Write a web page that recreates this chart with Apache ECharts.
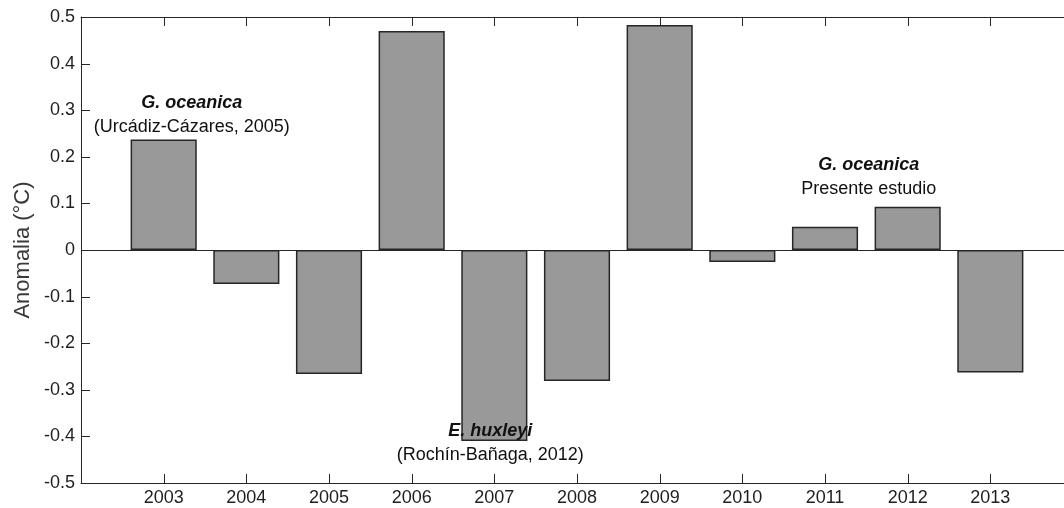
<!DOCTYPE html>
<html>
<head>
<meta charset="utf-8">
<script src="https://cdn.jsdelivr.net/npm/echarts@6/dist/echarts.min.js"></script>
<style>
  html, body { margin: 0; padding: 0; background: #fff; }
  #chart { width: 1064px; height: 508px; }
</style>
</head>
<body>
<div id="chart"></div>
<script>
// Annual temperature anomaly (°C), 2003–2013
const years = [2003, 2004, 2005, 2006, 2007, 2008, 2009, 2010, 2011, 2012, 2013];
const anomalies = [0.237, -0.073, -0.266, 0.470, -0.410, -0.281, 0.483, -0.026, 0.050, 0.093, -0.263];

// Inner tick marks on the box frame
const yTicks = [-0.4, -0.3, -0.2, -0.1, 0, 0.1, 0.2, 0.3, 0.4];

// Study notes placed in data coordinates (year, anomaly)
const noteYears = [2003.34, 2006.95, 2011.53];
const noteValues = [0.29, -0.414, 0.157];
const noteSpecies = ['G. oceanica', 'E. huxleyi', 'G. oceanica'];
const noteSources = ['(Urcádiz-Cázares, 2005)', '(Rochín-Bañaga, 2012)', 'Presente estudio'];

const FONT = '"Liberation Sans", Arial, sans-serif';
const INK = '#262626';
const TICK = 9;

// Box-style axis: plain frame line; ticks are drawn by the custom series below
function boxAxis(extra) {
  return Object.assign({
    axisLine: { show: true, onZero: false, lineStyle: { color: INK, width: 1 } },
    axisTick: { show: false },
    splitLine: { show: false }
  }, extra);
}

function tickLine(x1, y1, x2, y2) {
  return {
    type: 'line',
    shape: { x1: x1, y1: y1, x2: x2, y2: y2 },
    style: { stroke: INK, lineWidth: 1 }
  };
}

const chart = echarts.init(document.getElementById('chart'), null, { renderer: 'canvas' });

chart.setOption({
  animation: false,
  backgroundColor: '#ffffff',
  grid: {
    left: 81, top: 17, width: 992, height: 466,
    containLabel: false, outerBoundsMode: 'none'
  },
  xAxis: [
    boxAxis({
      type: 'value', position: 'bottom', min: 2002, max: 2014, interval: 1,
      axisLabel: {
        fontFamily: FONT, fontSize: 18, color: '#1f1f1f', margin: 6,
        formatter: v => (years.indexOf(v) >= 0 ? String(v) : '')
      }
    }),
    boxAxis({
      type: 'value', position: 'top', min: 2002, max: 2014, interval: 1,
      axisLabel: { show: false }
    })
  ],
  yAxis: [
    boxAxis({
      type: 'value', position: 'left', min: -0.5, max: 0.5, interval: 0.1,
      name: 'Anomalia (°C)', nameLocation: 'middle', nameGap: 47, nameMoveOverlap: false,
      nameTextStyle: { fontFamily: FONT, fontSize: 22, color: '#3a3a3a' },
      axisLabel: {
        fontFamily: FONT, fontSize: 18, color: '#1f1f1f', margin: 6,
        formatter: v => { const r = Math.round(v * 10) / 10; return r === 0 ? '0' : r.toFixed(1); }
      }
    }),
    boxAxis({
      type: 'value', position: 'right', min: -0.5, max: 0.5, interval: 0.1,
      axisLabel: { show: false }
    })
  ],
  series: [
    {
      type: 'bar',
      xAxisIndex: 0,
      yAxisIndex: 0,
      barWidth: '80%',
      data: years.map((y, i) => [y, anomalies[i]]),
      itemStyle: { color: '#999999', borderColor: INK, borderWidth: 1.5 },
      markLine: {
        silent: true,
        symbol: 'none',
        label: { show: false },
        lineStyle: { color: INK, width: 1, type: 'solid' },
        data: [{ yAxis: 0 }]
      },
      markPoint: {
        silent: true,
        symbol: 'circle',
        symbolSize: 1,
        itemStyle: { color: 'rgba(0,0,0,0)' },
        label: {
          show: true,
          position: 'inside',
          align: 'center',
          verticalAlign: 'middle',
          formatter: p => '{sp|' + noteSpecies[p.dataIndex] + '}\n{src|' + noteSources[p.dataIndex] + '}',
          rich: {
            sp: { fontFamily: FONT, fontSize: 18, fontWeight: 'bold', fontStyle: 'italic', color: '#111', lineHeight: 24, align: 'center' },
            src: { fontFamily: FONT, fontSize: 18, color: '#111', lineHeight: 24, align: 'center' }
          }
        },
        data: noteYears.map((x, i) => ({ coord: [x, noteValues[i]] }))
      }
    },
    {
      // year ticks on the bottom and top frame lines
      type: 'custom',
      silent: true,
      clip: false,
      xAxisIndex: 0,
      yAxisIndex: 0,
      data: years.map(y => [y, 0]),
      renderItem: (params, api) => {
        const cs = params.coordSys;
        const x = Math.round(api.coord([api.value(0), 0])[0]) + 0.5;
        const top = cs.y, bottom = cs.y + cs.height;
        return {
          type: 'group',
          children: [tickLine(x, bottom, x, bottom - TICK), tickLine(x, top, x, top + TICK)]
        };
      }
    },
    {
      // anomaly ticks on the left and right frame lines
      type: 'custom',
      silent: true,
      clip: false,
      xAxisIndex: 0,
      yAxisIndex: 0,
      data: yTicks.map(v => [2002, v]),
      renderItem: (params, api) => {
        const cs = params.coordSys;
        const y = Math.round(api.coord([2002, api.value(1)])[1]) + 0.5;
        const left = cs.x, right = cs.x + cs.width;
        return {
          type: 'group',
          children: [tickLine(left, y, left + TICK, y), tickLine(right, y, right - TICK, y)]
        };
      }
    }
  ]
});
</script>
</body>
</html>
